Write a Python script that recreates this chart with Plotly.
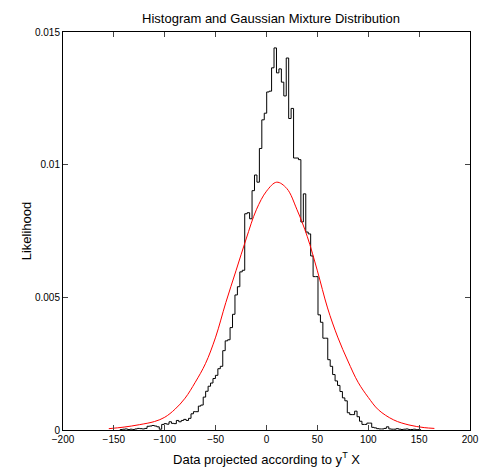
import plotly.graph_objects as go

# Histogram: uniform bins
bin_start = -143.8
bin_width = 2.4
hist_density_e4 = [
    0.2, 0.3, 0.4, 0.2, 0.3, 0.2, 0.4, 0.6, 0.5, 0.4,
    0.6, 1.4, 1.5, 1.7, 1.5, 1.2, 0.3, 2.1, 2.4, 2.2,
    3.1, 2.5, 2.4, 3.6, 3.1, 3.6, 4.0, 3.6, 4.4, 6.1,
    6.9, 6.9, 9.0, 9.4, 12.4, 14.6, 16.5, 17.7, 19.4, 20.6,
    23.1, 24.0, 29.9, 33.6, 34.0, 38.6, 43.6, 50.9, 54.0, 59.6,
    60.2, 81.5, 81.9, 79.6, 90.2, 96.1, 93.4, 106.1, 116.9, 119.4,
    127.4, 127.7, 136.5, 144.0, 134.6, 136.1, 131.1, 125.9, 140.2, 117.4,
    121.2, 102.5, 102.5, 101.9, 78.4, 89.0, 74.6, 73.9, 65.6, 57.8,
    57.8, 43.4, 40.6, 34.6, 34.6, 26.5, 24.0, 20.9, 18.5, 16.8,
    14.5, 12.1, 11.0, 6.5, 5.8, 5.8, 7.1, 5.0, 3.3, 2.1,
    2.1, 2.6, 2.6, 1.0, 0.8, 0.5, 0.4, 0.4, 0.6, 1.2,
    0.4, 0.3, 0.3, 0.5, 0.3, 0.2, 0.3, 0.4, 0.2, 0.2,
    0.3, 0.1, 0.2,
]

# Fitted mixture density
gmm_x = [-155, -140, -125, -110, -100, -90, -80, -70, -60, -50,
         -40, -30, -20, -10, 0, 10, 20, 30, 40, 50,
         60, 70, 80, 90, 100, 110, 125, 140, 155, 165]
gmm_y = [0.00005, 0.00011, 0.0002, 0.00032, 0.00048, 0.00078, 0.0012, 0.0018, 0.0025, 0.0035,
         0.0048, 0.0060, 0.0072, 0.0083, 0.0090, 0.00934, 0.0091, 0.0083, 0.0073, 0.0060,
         0.0046, 0.0035, 0.0026, 0.0018, 0.00123, 0.00076, 0.00038, 0.00019, 0.00009, 0.00006]

x_ticks = [-200, -150, -100, -50, 0, 50, 100, 150, 200]
y_ticks = [0, 0.005, 0.01, 0.015]
y_tick_text = ["0", "0.005", "0.01", "0.015"]

heights = [h * 1e-4 for h in hist_density_e4]
edges = [bin_start + bin_width * i for i in range(len(heights) + 1)]
hx = [edges[0]] + edges[:-1] + [edges[-1]]
hy = [0] + heights + [0]

fig = go.Figure()
fig.add_trace(go.Scatter(x=hx, y=hy, mode="lines", line_shape="hv",
                         line=dict(color="black", width=1), showlegend=False))
fig.add_trace(go.Scatter(x=gmm_x, y=gmm_y, mode="lines", line_shape="spline",
                         line=dict(color="red", width=1), showlegend=False))

font = "Liberation Sans, Arial, sans-serif"
W, H = 480, 465
fig.update_layout(
    width=W, height=H,
    margin=dict(l=55, r=9, t=24, b=41),
    paper_bgcolor="white", plot_bgcolor="white",
    font=dict(family=font, size=10, color="black"),
    title=dict(text="Histogram and Gaussian Mixture Distribution", x=263 / W, xanchor="center",
               y=1 - 10 / H, yanchor="middle", font=dict(size=13)),
    xaxis=dict(range=[-200, 200], tickvals=x_ticks, ticks="inside", ticklen=5,
               showline=True, linecolor="black", linewidth=1, mirror="ticks",
               showgrid=False, zeroline=False,
               title=dict(text="Data projected according to y<sup>T</sup> X", font=dict(size=13), standoff=10)),
    yaxis=dict(range=[0, 0.015], tickvals=y_ticks, ticktext=y_tick_text, ticks="inside", ticklen=5,
               showline=True, linecolor="black", linewidth=1, mirror="ticks",
               showgrid=False, zeroline=False,
               title=dict(text="Likelihood", font=dict(size=13), standoff=0)),
)

fig.write_html("out.html")
